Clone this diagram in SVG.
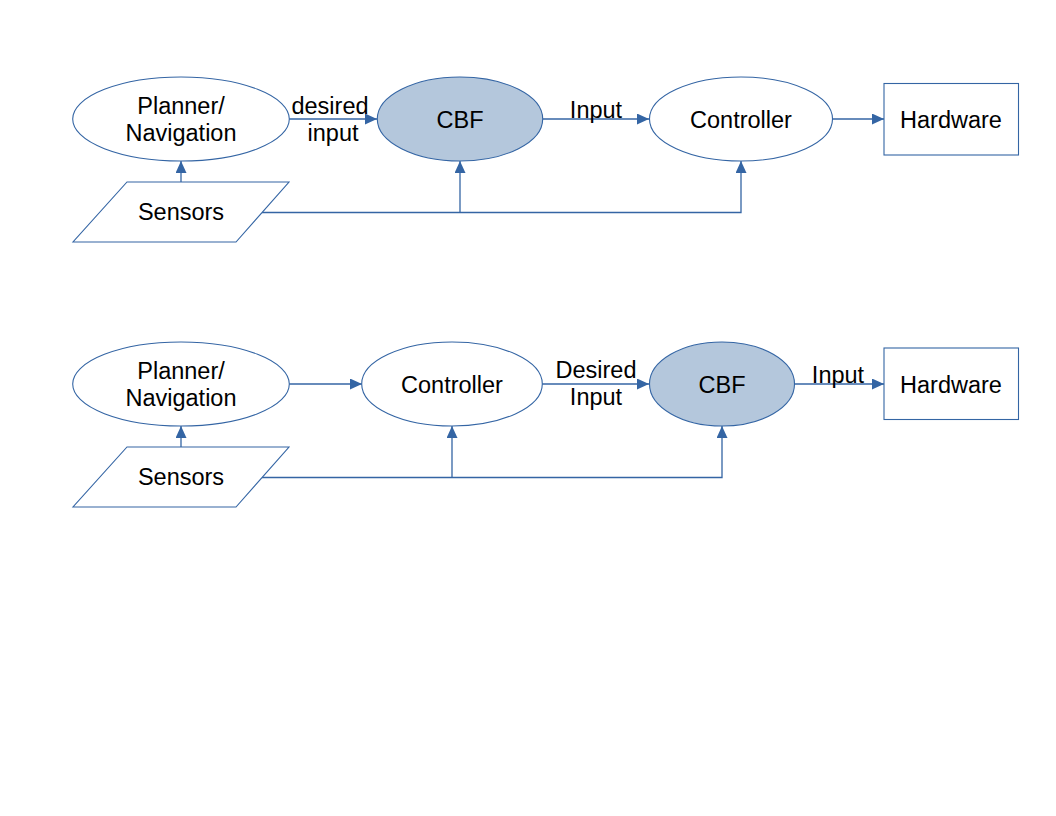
<svg xmlns="http://www.w3.org/2000/svg" width="1056" height="816" viewBox="0 0 1056 816">
<style>
.node{fill:#ffffff;stroke:#3465a4;stroke-width:1.1}
.hl{fill:#b4c7dc;stroke:#3465a4;stroke-width:1.1}
.edge{fill:none;stroke:#3465a4;stroke-width:1.3}
.arr{marker-end:url(#ah)}
text{font-family:"Liberation Sans",Arial,sans-serif;font-size:23.5px;fill:#000;text-anchor:middle}
</style>
<defs>
<marker id="ah" markerUnits="userSpaceOnUse" markerWidth="13" markerHeight="11" refX="12" refY="5.5" orient="auto">
<path d="M0,0 L12,5.5 L0,11 z" fill="#3465a4"/>
</marker>
</defs>
<rect width="1056" height="816" fill="#ffffff"/>
<g id="connectors">
<line class="edge arr" x1="289" y1="119" x2="377" y2="119"/>
<line class="edge arr" x1="543" y1="119" x2="649" y2="119"/>
<line class="edge arr" x1="832" y1="119" x2="884" y2="119"/>
<line class="edge arr" x1="181" y1="182" x2="181" y2="161"/>
<polyline class="edge arr" points="262,212.5 741,212.5 741,161"/>
<line class="edge arr" x1="460" y1="212.5" x2="460" y2="161"/>
<text x="330" y="114">desired</text>
<text x="333" y="141">input</text>
<text x="596" y="118">Input</text>
<line class="edge arr" x1="289" y1="384" x2="362" y2="384"/>
<line class="edge arr" x1="542" y1="384" x2="649" y2="384"/>
<line class="edge arr" x1="794" y1="384" x2="884" y2="384"/>
<line class="edge arr" x1="181" y1="447" x2="181" y2="426"/>
<polyline class="edge arr" points="262,477.5 722,477.5 722,426"/>
<line class="edge arr" x1="452" y1="477.5" x2="452" y2="426"/>
<text x="596" y="378">Desired</text>
<text x="596" y="405">Input</text>
<text x="838" y="383">Input</text>
</g>
<g id="planner1">
<ellipse class="node" cx="181" cy="119" rx="108.3" ry="42"/>
<text x="181" y="114">Planner/</text>
<text x="181" y="141">Navigation</text>
</g>
<g id="cbf1">
<ellipse class="hl" cx="460" cy="119" rx="82.7" ry="42"/>
<text x="460" y="127.5">CBF</text>
</g>
<g id="controller1">
<ellipse class="node" cx="741" cy="119" rx="91.5" ry="42"/>
<text x="741" y="127.5">Controller</text>
</g>
<g id="hardware1">
<rect class="node" x="884" y="83.5" width="134.5" height="71.5"/>
<text x="951" y="127.5">Hardware</text>
</g>
<g id="sensors1">
<polygon class="node" points="127,182 289,182 236,242 73,242"/>
<text x="181" y="220">Sensors</text>
</g>
<g id="planner2">
<ellipse class="node" cx="181" cy="384" rx="108.3" ry="42"/>
<text x="181" y="379">Planner/</text>
<text x="181" y="406">Navigation</text>
</g>
<g id="controller2">
<ellipse class="node" cx="452" cy="384" rx="90.3" ry="42"/>
<text x="452" y="392.5">Controller</text>
</g>
<g id="cbf2">
<ellipse class="hl" cx="722" cy="384" rx="72.5" ry="42"/>
<text x="722" y="392.5">CBF</text>
</g>
<g id="hardware2">
<rect class="node" x="884" y="348" width="134.5" height="71.5"/>
<text x="951" y="392.5">Hardware</text>
</g>
<g id="sensors2">
<polygon class="node" points="127,447 289,447 236,507 73,507"/>
<text x="181" y="485">Sensors</text>
</g>
</svg>
